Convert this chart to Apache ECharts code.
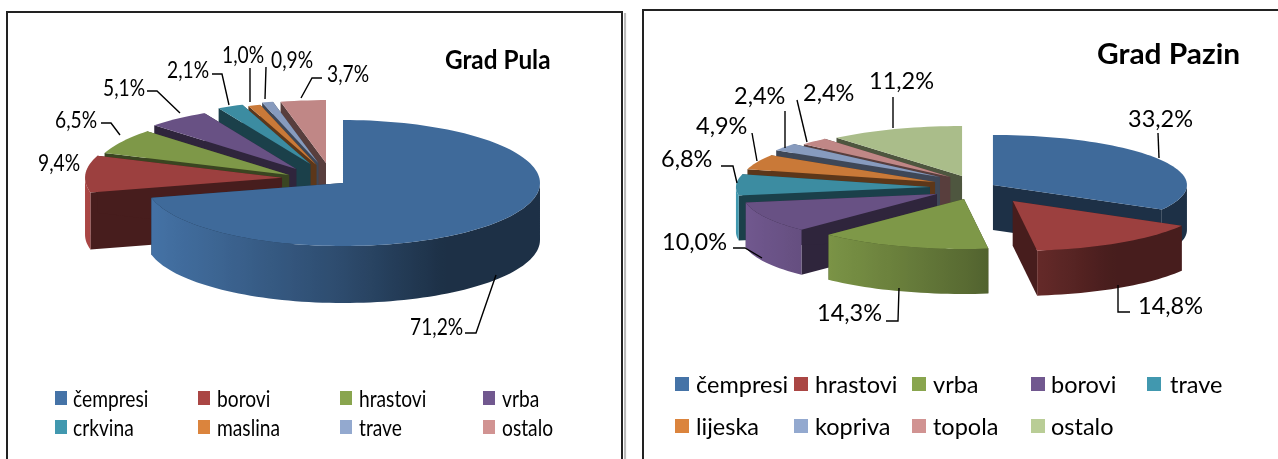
<!DOCTYPE html>
<html>
<head>
<meta charset="utf-8">
<style>
  html, body { margin: 0; padding: 0; background: #fff; }
  #main { width: 1278px; height: 459px; }
</style>
<script src="https://cdn.jsdelivr.net/npm/echarts@6/dist/echarts.min.js"></script>
</head>
<body>
<div id="main"></div>
<script>
// values
const pulaCategories = ['čempresi', 'borovi', 'hrastovi', 'vrba', 'crkvina', 'maslina', 'trave', 'ostalo'];
const pulaValues = [71.2, 9.4, 6.5, 5.1, 2.1, 1.0, 0.9, 3.7];
const pazinCategories = ['čempresi', 'hrastovi', 'vrba', 'borovi', 'trave', 'lijeska', 'kopriva', 'topola', 'ostalo'];
const pazinValues = [33.2, 14.8, 14.3, 10.0, 6.8, 4.9, 2.4, 2.4, 11.2];

const palette = ['#4573a7', '#aa4644', '#89a54e', '#71588f', '#4198af', '#db843d', '#93a9cf', '#d19392', '#b9cd96'];

// layout of each chart, kept apart from the values
const pulaLayout = {
  title: 'Grad Pula', titleX: 445, titleY: 60, titleSize: 27, titleScale: 0.9,
  cx: 330, cy: 180, rx: 197, ry: 63, wall: 57,
  explodeX: [0.084, 0.244, 0.245, 0.285, 0.246, 0.22, 0.23, 0.174],
  explodeY: [0.077, 0.57, 0.15, 0.22, 0.28, 0.25, 0.28, 0.27],
  textSize: 24, textScale: 0.8,
  labels: [
    { x: 410, y: 327, line: [[465, 333], [476, 333], [496, 275]] },
    { x: 38, y: 163, line: [] },
    { x: 55, y: 120, line: [[101, 123], [111, 123], [120, 135]] },
    { x: 103, y: 88, line: [[147, 91], [157, 91], [180, 113]] },
    { x: 167, y: 70, line: [[212, 74], [222, 74], [229, 105]] },
    { x: 222, y: 55, line: [[250, 68], [250, 102]] },
    { x: 271, y: 60, line: [[266, 67], [265, 99]] },
    { x: 327, y: 74, line: [[322, 78], [312, 78], [301, 98]] }
  ],
  swatchW: 12, swatchH: 14,
  legendX: [55, 198, 340, 483], legendTextX: [73, 217, 359, 502], legendY: [399, 428], perRow: 4
};

const pazinLayout = {
  title: 'Grad Pazin', titleX: 1097, titleY: 55, titleSize: 29, titleScale: 1.03,
  cx: 972, cy: 188, rx: 194, ry: 50, wall: 45,
  explodeX: [0.125, 0.378, 0.13, 0.204, 0.217, 0.208, 0.206, 0.16, 0.149],
  explodeY: [0.12, 0.314, 0.232, 0.256, 0.45, 0.3, 0.37, 0.31, 0.256],
  textSize: 23.5, textScale: 1,
  labels: [
    { x: 1128, y: 119, line: [[1158, 133], [1159, 158]] },
    { x: 1138, y: 306, line: [[1118, 285], [1118, 312], [1130, 312]] },
    { x: 817, y: 313, line: [[886, 321], [898, 321], [899, 288]] },
    { x: 662, y: 242, line: [[733, 248], [745, 248], [762, 258]] },
    { x: 661, y: 159, line: [[721, 166], [733, 166], [737, 183]] },
    { x: 696, y: 126, line: [[752, 133], [757, 161]] },
    { x: 734, y: 96, line: [[785, 111], [785, 148]] },
    { x: 803, y: 93, line: [[797, 100], [807, 142]] },
    { x: 869, y: 81, line: [[893, 97], [893, 128]] }
  ],
  swatchW: 14, swatchH: 14,
  legendX: [675, 794, 912, 1031, 1147], legendTextX: [696, 815, 933, 1051, 1170], legendY: [385, 427], perRow: 5
};

const FONT = 'Lato, "Open Sans", sans-serif';
const STEP = 2 * Math.PI / 180;

function shade(hex, k) {
  const n = parseInt(hex.slice(1), 16);
  const c = [n >> 16, (n >> 8) & 255, n & 255].map(function (v) { return Math.round(v * k); });
  return 'rgb(' + c.join(',') + ')';
}

// left side of the wall is lit, right side falls into shadow
function wallBrightness(s) {
  if (s <= 0) return 0.65 - 0.35 * s;
  return Math.max(0.42, 0.65 - 0.45 * s);
}

function pieSeries(values, layout) {
  // slice angles, clockwise from 12 o'clock
  var slices = [];
  var total = values.reduce(function (a, b) { return a + b; }, 0);
  var acc = 0;
  for (var i = 0; i < values.length; i++) {
    var a0 = acc / total * 2 * Math.PI;
    acc += values[i];
    var a1 = acc / total * 2 * Math.PI;
    slices.push({ a0: a0, a1: a1, mid: (a0 + a1) / 2 });
  }
  // back slices first
  var order = slices.map(function (s, idx) { return idx; }).sort(function (p, q) {
    return Math.cos(slices[q].mid) - Math.cos(slices[p].mid);
  });

  return {
    type: 'custom',
    coordinateSystem: 'none',
    silent: true,
    animation: false,
    data: order.map(function (idx) { return [idx, values[idx]]; }),
    renderItem: function (params, api) {
      var idx = api.value(0);
      var s = slices[idx];
      var color = palette[idx];
      var ax = layout.cx + layout.explodeX[idx] * layout.rx * Math.sin(s.mid);
      var ay = layout.cy - layout.explodeY[idx] * layout.ry * Math.cos(s.mid);
      function pt(t, dy) {
        return [ax + layout.rx * Math.sin(t), ay - layout.ry * Math.cos(t) + (dy || 0)];
      }
      function arc(from, to, dy) {
        var pts = [];
        for (var t = from; t < to; t += STEP) pts.push(pt(t, dy));
        pts.push(pt(to, dy));
        return pts;
      }
      var w = layout.wall;
      var children = [];
      var dark = shade(color, 0.42);
      // cut faces
      [s.a0, s.a1].forEach(function (t) {
        var p = pt(t);
        children.push({
          type: 'polygon',
          shape: { points: [[ax, ay], p, [p[0], p[1] + w], [ax, ay + w]] },
          style: { fill: dark }
        });
      });
      // outer wall, only the front half of the ellipse shows
      var from = Math.max(s.a0, Math.PI / 2);
      var to = Math.min(s.a1, Math.PI * 1.5);
      if (to > from) {
        var topArc = arc(from, to, 0);
        var xs = topArc.map(function (p) { return p[0]; });
        var minX = Math.min.apply(null, xs);
        var maxX = Math.max.apply(null, xs);
        var stops = topArc.map(function (p) {
          var off = maxX > minX ? (p[0] - minX) / (maxX - minX) : 0;
          return { off: off, color: shade(color, wallBrightness((p[0] - ax) / layout.rx)) };
        }).sort(function (p, q) { return p.off - q.off; }).map(function (o) {
          return { offset: o.off, color: o.color };
        });
        children.push({
          type: 'polygon',
          shape: { points: topArc.concat(arc(from, to, w).reverse()) },
          style: {
            fill: { type: 'linear', x: minX, y: 0, x2: maxX, y2: 0, global: true, colorStops: stops }
          }
        });
      }
      // top surface
      children.push({
        type: 'polygon',
        shape: { points: [[ax, ay]].concat(arc(s.a0, s.a1, 0)) },
        style: { fill: shade(color, 0.92) }
      });
      return { type: 'group', children: children };
    }
  };
}

function text(str, x, y, size, scale, weight) {
  return {
    type: 'text', x: x, y: y, scaleX: scale, z: 20,
    style: {
      text: str, fill: '#000',
      font: (weight || 'normal') + ' ' + size + 'px ' + FONT,
      textAlign: 'left', textVerticalAlign: 'middle'
    }
  };
}

function overlay(categories, values, layout) {
  var out = [text(layout.title, layout.titleX, layout.titleY, layout.titleSize, layout.titleScale, 'bold')];
  layout.labels.forEach(function (l, i) {
    var label = values[i].toFixed(1).replace('.', ',') + '%';
    out.push(text(label, l.x, l.y, layout.textSize, layout.textScale));
    if (l.line.length) {
      out.push({
        type: 'polyline', z: 20,
        shape: { points: l.line },
        style: { stroke: '#000', lineWidth: 1.4, fill: null }
      });
    }
  });
  categories.forEach(function (name, i) {
    var col = i % layout.perRow;
    var y = layout.legendY[Math.floor(i / layout.perRow)];
    out.push({
      type: 'rect', z: 20,
      shape: { x: layout.legendX[col], y: y - layout.swatchH / 2 - 1, width: layout.swatchW, height: layout.swatchH },
      style: { fill: palette[i] }
    });
    out.push(text(name, layout.legendTextX[col], y, layout.textSize, layout.textScale));
  });
  return out;
}

var panels = [
  { type: 'rect', z: 1, shape: { x: 625, y: 14, width: 0.1, height: 460 }, style: { stroke: '#bbb', lineWidth: 2, fill: null } },
  { type: 'rect', z: 2, shape: { x: 7, y: 12, width: 615, height: 460 }, style: { stroke: '#222', lineWidth: 2, fill: null } },
  { type: 'rect', z: 2, shape: { x: 643, y: 10, width: 650, height: 460 }, style: { stroke: '#222', lineWidth: 2, fill: null } }
];

var chart = echarts.init(document.getElementById('main'), null, { renderer: 'canvas' });
chart.setOption({
  backgroundColor: '#fff',
  animation: false,
  graphic: {
    elements: panels.concat(overlay(pulaCategories, pulaValues, pulaLayout), overlay(pazinCategories, pazinValues, pazinLayout))
  },
  series: [pieSeries(pulaValues, pulaLayout), pieSeries(pazinValues, pazinLayout)]
});
</script>
</body>
</html>
